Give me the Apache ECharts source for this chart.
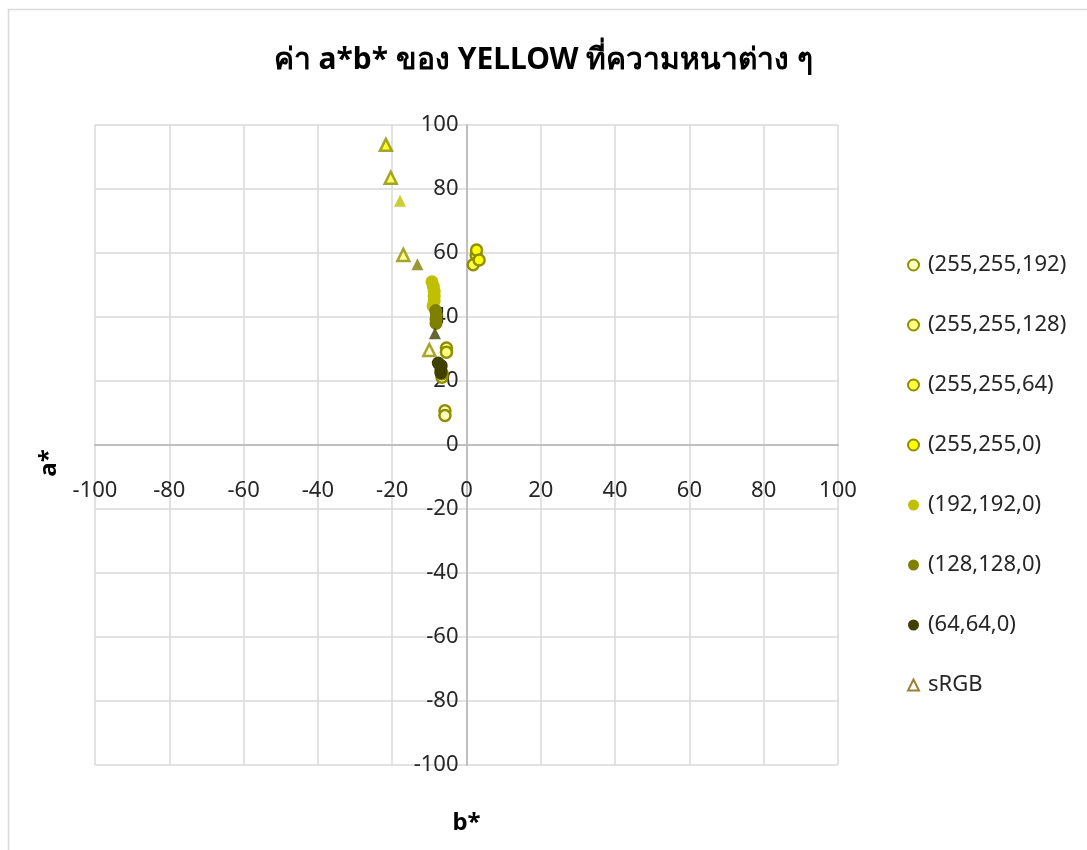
<!DOCTYPE html>
<html>
<head>
<meta charset="utf-8">
<script src="https://cdn.jsdelivr.net/npm/echarts@6/dist/echarts.min.js"></script>
<style>
html,body{margin:0;padding:0;background:#fff;}
#c{width:1087px;height:850px;}
</style>
</head>
<body>
<div id="c"></div>
<script>
// ---- data ----
const titleText = 'ค่า a*b* ของ YELLOW ที่ความหนาต่าง ๆ';
const xName = 'b*';
const yName = 'a*';
const seriesNames = ['(255,255,192)', '(255,255,128)', '(255,255,64)', '(255,255,0)', '(192,192,0)', '(128,128,0)', '(64,64,0)', 'sRGB'];
const d255_255_192 = [[-5.8, 10.7], [-5.8, 9.2], [-6.6, 21.2], [-6.6, 22.3]];
const d255_255_128 = [[-5.4, 30.3], [-5.4, 29.0]];
const d255_255_64 = [[2.6, 59.4], [1.8, 56.3]];
const d255_255_0 = [[2.7, 60.9], [3.4, 57.8]];
const d192_192_0 = [[-9.3, 51.0], [-8.9, 49.5], [-8.7, 48.0], [-8.7, 46.5], [-8.7, 45.0], [-9.0, 43.5]];
const d128_128_0 = [[-8.3, 42.0], [-8.1, 40.6], [-8.2, 39.3], [-8.2, 38.0]];
const d64_64_0 = [[-7.6, 25.6], [-6.8, 24.8], [-6.9, 23.5], [-6.9, 22.5]];
const dSRGB = [[-21.7, 93.8], [-20.4, 83.5], [-17.9, 76.3], [-17.0, 59.4], [-13.2, 56.5], [-8.5, 34.9], [-10.0, 29.7]];
const sRGBpointColors = ['#ffff00', '#ffff40', '#c0c000', '#ffff80', '#808000', '#404000', '#ffffc0'];
const sRGBpointSolid = [false, false, true, false, true, true, false];
const axisMin = -100, axisMax = 100, axisStep = 20;

// ---- styles ----
const FONT = '"Noto Sans", "DejaVu Sans", "Liberation Sans", sans-serif';
const OLIVE = '#8f8f00';
const hollowFills = ['#ffffc0', '#ffff80', '#ffff40', '#ffff00'];
const solidFills = ['#c0c000', '#808000', '#404000'];
const circleData = [d255_255_192, d255_255_128, d255_255_64, d255_255_0, d192_192_0, d128_128_0, d64_64_0];

const GRID = { left: 95, top: 125, width: 743, height: 640 };
// axes cross at zero: shift each axis from the grid edge to the zero line
const xAxisShift = -GRID.height / 2;
const yAxisShift = -GRID.width / 2;

const series = [];
circleData.forEach((d, i) => {
  const hollow = i < 4;
  series.push({
    name: seriesNames[i],
    type: 'scatter',
    symbol: 'circle',
    symbolSize: hollow ? 11 : 13,
    data: d,
    itemStyle: hollow
      ? { color: hollowFills[i], borderColor: OLIVE, borderWidth: 2.5, opacity: 1 }
      : { color: solidFills[i - 4], borderWidth: 0, opacity: 1 },
    emphasis: { disabled: true },
    z: 2 + i
  });
});
series.push({
  name: 'sRGB',
  type: 'scatter',
  symbol: 'triangle',
  symbolSize: 12,
  itemStyle: { color: '#ffffff', borderColor: '#7f6000', borderWidth: 2 },
  data: dSRGB.map((p, k) => ({
    value: p,
    itemStyle: sRGBpointSolid[k]
      ? { color: sRGBpointColors[k], borderWidth: 0 }
      : { color: sRGBpointColors[k], borderColor: OLIVE, borderWidth: 2.5 }
  })),
  emphasis: { disabled: true },
  z: 10
});

const chart = echarts.init(document.getElementById('c'), null, { renderer: 'canvas' });
chart.setOption({
  animation: false,
  backgroundColor: '#ffffff',
  graphic: [{
    type: 'rect',
    shape: { x: 8.5, y: 9.5, width: 1100, height: 900 },
    style: { fill: 'none', stroke: '#d9d9d9', lineWidth: 1.5 },
    silent: true, z: -1
  }],
  title: {
    text: titleText,
    left: 'center',
    top: 40,
    textStyle: { fontFamily: FONT, fontSize: 30, fontWeight: 'bold', color: '#000' }
  },
  legend: {
    orient: 'vertical',
    left: 902,
    top: 246,
    itemWidth: 11,
    itemHeight: 11,
    itemGap: 32,
    data: seriesNames.map((n, i) => ({
      name: n,
      icon: i === 7 ? 'triangle' : 'circle',
      itemStyle: i === 7 ? { color: '#ffffff', borderColor: '#7f6000', borderWidth: 2 } : undefined
    })),
    textStyle: { fontFamily: FONT, fontSize: 22, color: '#262626', lineHeight: 28, padding: [0, 0, 0, 4] }
  },
  grid: Object.assign({ containLabel: false, outerBoundsMode: 'none' }, GRID),
  xAxis: {
    type: 'value',
    min: axisMin, max: axisMax, interval: axisStep,
    offset: xAxisShift,
    name: xName,
    nameLocation: 'middle',
    nameGap: 366,
    nameTextStyle: { fontFamily: FONT, fontSize: 24, fontWeight: 'bold', color: '#000' },
    axisLine: { onZero: false, lineStyle: { color: '#bfbfbf', width: 2 } },
    axisTick: { show: false },
    axisLabel: { margin: 35, fontFamily: FONT, fontSize: 22, color: '#262626' },
    splitLine: { show: true, lineStyle: { color: '#d9d9d9', width: 1.5 } }
  },
  yAxis: {
    type: 'value',
    min: axisMin, max: axisMax, interval: axisStep,
    offset: yAxisShift,
    name: yName,
    nameLocation: 'middle',
    nameGap: 405,
    nameRotate: 90,
    nameTextStyle: { fontFamily: FONT, fontSize: 24, fontWeight: 'bold', color: '#000', padding: [0, 36, 0, 0] },
    axisLine: { onZero: false, lineStyle: { color: '#bfbfbf', width: 2 } },
    axisTick: { show: false },
    axisLabel: { margin: 8, fontFamily: FONT, fontSize: 22, color: '#262626' },
    splitLine: { show: true, lineStyle: { color: '#d9d9d9', width: 1.5 } }
  },
  series: series
});
</script>
</body>
</html>
